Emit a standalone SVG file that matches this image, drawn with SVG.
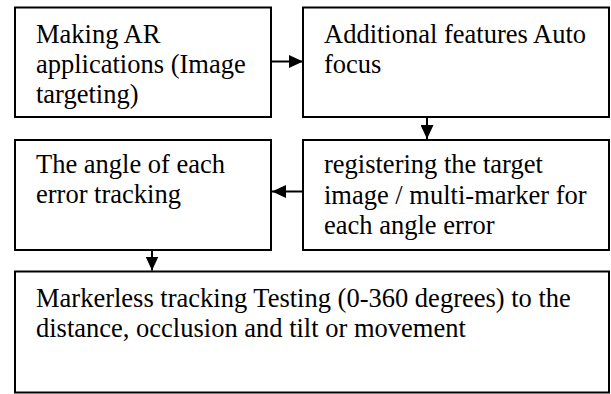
<svg xmlns="http://www.w3.org/2000/svg" width="611" height="394" viewBox="0 0 611 394">
  <style>
    .box { fill: #ffffff; stroke: #000000; stroke-width: 2; }
    .lbl { font-family: "Liberation Serif", "Times New Roman", serif; font-size: 26.5px; fill: #000000; }
    .conn { stroke: #000000; stroke-width: 2; fill: none; marker-end: url(#head); }
  </style>
  <defs>
    <marker id="head" markerUnits="userSpaceOnUse" viewBox="0 0 14 13" refX="14" refY="6.5" markerWidth="14" markerHeight="13" orient="auto">
      <path d="M0,0 L14,6.5 L0,13 Z" fill="#000000"/>
    </marker>
  </defs>
  <rect width="611" height="394" fill="#ffffff"/>

  <g id="n1">
    <rect class="box" x="15" y="7.5" width="256" height="109.5"/>
    <text class="lbl" x="36" y="43">Making AR</text>
    <text class="lbl" x="36" y="73">applications (Image</text>
    <text class="lbl" x="36" y="103">targeting)</text>
  </g>

  <g id="n2">
    <rect class="box" x="303" y="7.5" width="306" height="109.5"/>
    <text class="lbl" x="324" y="43">Additional features Auto</text>
    <text class="lbl" x="324" y="73">focus</text>
  </g>

  <g id="n3">
    <rect class="box" x="303" y="140" width="306" height="110"/>
    <text class="lbl" x="324" y="173">registering the target</text>
    <text class="lbl" x="324" y="204">image / multi-marker for</text>
    <text class="lbl" x="324" y="234">each angle error</text>
  </g>

  <g id="n4">
    <rect class="box" x="15" y="140" width="256" height="110"/>
    <text class="lbl" x="36" y="173">The angle of each</text>
    <text class="lbl" x="36" y="203">error tracking</text>
  </g>

  <g id="n5">
    <rect class="box" x="15" y="271.5" width="594" height="121"/>
    <text class="lbl" x="36" y="307">Markerless tracking Testing (0-360 degrees) to the</text>
    <text class="lbl" x="36" y="337">distance, occlusion and tilt or movement</text>
  </g>

  <g id="connectors">
    <line class="conn" x1="272" y1="61.5" x2="303" y2="61.5"/>
    <line class="conn" x1="427" y1="118" x2="427" y2="139"/>
    <line class="conn" x1="302" y1="191.5" x2="272" y2="191.5"/>
    <line class="conn" x1="152" y1="251" x2="152" y2="270.5"/>
  </g>
</svg>
